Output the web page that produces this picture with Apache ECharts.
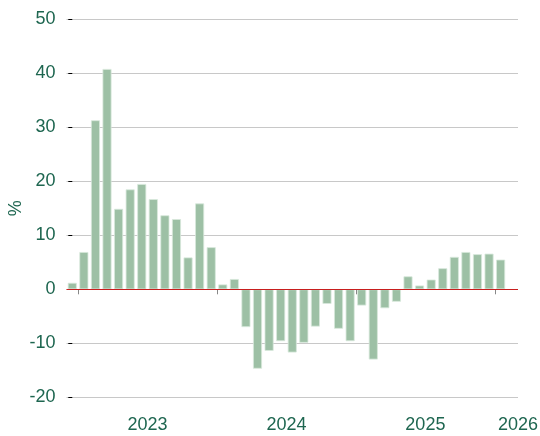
<!DOCTYPE html>
<html>
<head>
<meta charset="utf-8">
<script src="https://cdn.jsdelivr.net/npm/echarts@6/dist/echarts.min.js"></script>
<style>
  html, body { margin: 0; padding: 0; background: #fff; }
  #main { width: 540px; height: 436px; }
</style>
</head>
<body>
<div id="main"></div>
<script>
// monthly values, Dec 2022 .. Jan 2026 (last slot Feb 2026 left empty)
const months = [
  '2022-12',
  '2023-01', '2023-02', '2023-03', '2023-04', '2023-05', '2023-06',
  '2023-07', '2023-08', '2023-09', '2023-10', '2023-11', '2023-12',
  '2024-01', '2024-02', '2024-03', '2024-04', '2024-05', '2024-06',
  '2024-07', '2024-08', '2024-09', '2024-10', '2024-11', '2024-12',
  '2025-01', '2025-02', '2025-03', '2025-04', '2025-05', '2025-06',
  '2025-07', '2025-08', '2025-09', '2025-10', '2025-11', '2025-12',
  '2026-01', '2026-02'
];
const values = [
  1.2,
  6.9, 31.3, 40.8, 14.9, 18.5, 19.5, 16.7, 13.7, 13.0, 5.9, 15.9, 7.8,
  0.9, 1.9, -7.0, -14.7, -11.4, -9.6, -11.7, -9.9, -6.9, -2.7, -7.3, -9.6,
  -3.0, -13.0, -3.5, -2.3, 2.4, 0.7, 1.8, 3.9, 6.0, 6.9, 6.5, 6.6,
  5.5, null
];
const yearLabels = ['2023', '2024', '2025', '2026'];

const TEXT = '#1e6650';
const FONT = 'Liberation Sans, Arial, sans-serif';
const xMin = -0.5;
const xMax = months.length - 0.5;

// tick at the start of each year, label at the middle of each year (clamped to the axis end)
const yearStart = yearLabels.map(y => months.indexOf(y + '-01'));
const tickPos = yearStart.map(i => i - 0.5);
const labelPos = yearStart.map(i => Math.min(i + 5.5, xMax));

const barData = values.map((v, i) => [i, v]);

const option = {
  animation: false,
  grid: {
    left: 66.5, right: 22, top: 19.3, bottom: 38.7,
    containLabel: false,
    outerBoundsMode: 'none'
  },
  xAxis: {
    type: 'value',
    min: xMin,
    max: xMax,
    offset: 12,
    axisLine: { show: false },
    splitLine: { show: false },
    axisTick: {
      show: true,
      customValues: tickPos,
      length: 5,
      lineStyle: { color: '#888', width: 1 }
    },
    axisLabel: {
      customValues: labelPos,
      margin: 7,
      color: TEXT,
      fontSize: 18,
      fontFamily: FONT,
      formatter: function (val) {
        const k = labelPos.indexOf(val);
        return k >= 0 ? yearLabels[k] : '';
      }
    }
  },
  yAxis: {
    type: 'value',
    min: -20,
    max: 50,
    interval: 10,
    name: '%',
    nameLocation: 'middle',
    nameGap: 41,
    nameRotate: 90,
    nameMoveOverlap: false,
    nameTextStyle: { color: TEXT, fontSize: 18, fontFamily: FONT },
    axisLine: { show: false },
    axisTick: { show: true, length: 4, lineStyle: { color: '#000', width: 1 } },
    axisLabel: { color: TEXT, fontSize: 18, margin: 11, fontFamily: FONT },
    splitLine: { lineStyle: { color: '#c8c8c8', width: 1 } }
  },
  series: [{
    type: 'bar',
    data: barData,
    barWidth: 9,
    itemStyle: {
      color: '#9dc0a5',
      borderColor: '#d8e8dc',
      borderWidth: 0.8
    },
    markLine: {
      silent: true,
      symbol: 'none',
      label: { show: false },
      z: 10,
      lineStyle: { color: '#c81e1e', width: 1, type: 'solid' },
      data: [{ yAxis: 0 }]
    }
  }]
};

const chart = echarts.init(document.getElementById('main'));
chart.setOption(option);
</script>
</body>
</html>
